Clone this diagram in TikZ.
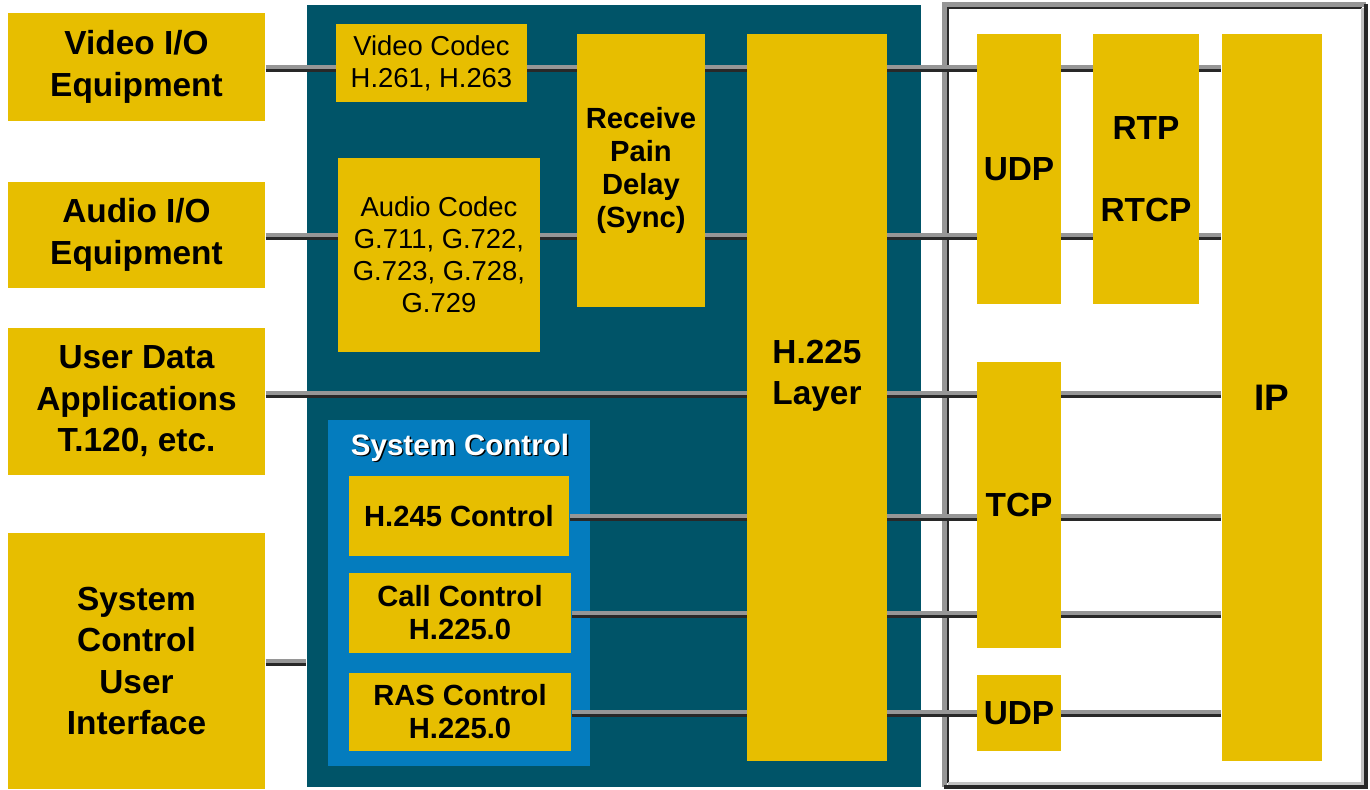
\documentclass[tikz,border=0pt]{standalone}
\usepackage{fontspec}
\setmainfont{Liberation Sans}
\usepackage{xcolor}
\usepackage{tikz}
\usetikzlibrary{positioning}

\definecolor{gold}{RGB}{231,190,0}
\definecolor{panelteal}{RGB}{0,84,104}
\definecolor{ctrlblue}{RGB}{4,124,190}
\definecolor{lkgray}{RGB}{150,150,150}
\definecolor{lkdark}{RGB}{40,40,40}
\definecolor{frlight}{RGB}{195,195,195}
\newcommand{\shadowed}[1]{\makebox[0pt][l]{\hspace{0.4pt}\raisebox{-0.4pt}{\color{black}#1}}#1}
\pgfdeclarelayer{back}
\pgfdeclarelayer{mid}
\pgfsetlayers{back,mid,main}

\begin{document}
\begin{tikzpicture}[
  x=0.1mm, y=-0.1mm,
  box/.style={fill=gold, inner sep=0pt, align=center},
  iobox/.style={box, minimum width=25.7mm, font=\bfseries\fontsize{9.5}{11.8}\selectfont},
  codec/.style={box, font=\fontsize{7.8}{9.1}\selectfont},
  ctrl/.style={box, font=\bfseries\fontsize{8.3}{9.4}\selectfont},
  proto/.style={box, font=\bfseries\fontsize{9.5}{11.7}\selectfont},
  link/.style={draw=lkgray, line width=1pt,
               postaction={draw=lkdark, line width=0.85pt, transform canvas={yshift=-0.9pt}}}
]
  \useasboundingbox (0,0) rectangle (1370,789);
  \begin{pgfonlayer}{back}
    \node[fill=panelteal, minimum width=61.4mm, minimum height=78.2mm] (panel) at (614,396) {};
    \node[fill=white, minimum width=42.4mm, minimum height=78.5mm] (netbox) at (1155,395.5) {};
    \draw[draw=lkgray, line width=1.2pt] ([shift={(0.6pt,0.6pt)}]netbox.south west) |- ([shift={(-0.6pt,-0.6pt)}]netbox.north east);
    \draw[draw=lkdark, line width=0.7pt] ([shift={(1.55pt,1.55pt)}]netbox.south west) |- ([shift={(-1.55pt,-1.55pt)}]netbox.north east);
    \draw[draw=lkdark, line width=1.2pt] ([shift={(0.6pt,0.6pt)}]netbox.south west) -| ([shift={(-0.6pt,-0.6pt)}]netbox.north east);
    \draw[draw=frlight, line width=0.7pt] ([shift={(1.55pt,1.55pt)}]netbox.south west) -| ([shift={(-1.55pt,-1.55pt)}]netbox.north east);
    \node[fill=ctrlblue, minimum width=26.2mm, minimum height=34.6mm] (sysctl) at (459,593) {};
  \end{pgfonlayer}

  \node[iobox, minimum height=10.8mm] (vidio) at (136.5,67) {Video I/O\\Equipment};
  \node[iobox, minimum height=10.6mm] (audio) at (136.5,235) {Audio I/O\\Equipment};
  \node[iobox, minimum height=14.7mm] (userdata) at (136.5,401.5) {User Data\\Applications\\T.120, etc.};
  \node[iobox, minimum height=25.6mm] (sysui) at (136.5,661) {System\\Control\\User\\Interface};

  \node[codec, minimum width=19.1mm, minimum height=7.8mm] (vcodec) at (431.5,63) {Video Codec\\H.261, H.263};
  \node[codec, minimum width=20.2mm, minimum height=19.4mm] (acodec) at (439,255) {Audio Codec\\G.711, G.722,\\G.723, G.728,\\G.729};
  \node[ctrl, minimum width=12.8mm, minimum height=27.3mm] (rpd) at (641,170.5) {Receive\\Pain\\Delay\\(Sync)};
  \node[proto, minimum width=14mm, minimum height=72.7mm] (h225) at (817,397.5) {};
  \node[font=\bfseries\fontsize{9.5}{11.7}\selectfont, align=center, inner sep=0pt] (h225txt) at (817,376) {H.225\\Layer};

  \node[anchor=base, text=white, inner sep=0pt, font=\bfseries\fontsize{8.4}{10}\selectfont] (sctitle) at (460,455) {\shadowed{System Control}};
  \node[ctrl, minimum width=22mm, minimum height=8mm] (h245) at (459,516) {H.245 Control};
  \node[ctrl, minimum width=22.2mm, minimum height=8mm] (callctl) at (460,613) {Call Control\\H.225.0};
  \node[ctrl, minimum width=22.2mm, minimum height=7.8mm] (rasctl) at (460,712) {RAS Control\\H.225.0};

  \node[proto, minimum width=8.4mm, minimum height=27mm] (udptop) at (1019,169) {UDP};
  \node[proto, minimum width=10.6mm, minimum height=27mm] (rtp) at (1146,169) {RTP\\[11.6pt]RTCP};
  \node[proto, minimum width=8.4mm, minimum height=28.6mm] (tcp) at (1019,505) {TCP};
  \node[proto, minimum width=8.4mm, minimum height=7.6mm] (udpbot) at (1019,713) {UDP};
  \node[box, minimum width=10mm, minimum height=72.7mm, font=\bfseries\fontsize{10.5}{12}\selectfont] (ip) at (1272,397.5) {IP};

  \begin{pgfonlayer}{mid}
    \coordinate (datarow) at ([yshift=2.4pt]userdata.east);
    \draw[link] (vidio.east) -- (vidio.east -| ip.west);
    \draw[link] (audio.east) -- (audio.east -| ip.west);
    \draw[link] (datarow) -- (datarow -| ip.west);
    \draw[link] (h245.east) -- (h245.east -| ip.west);
    \draw[link] (callctl.east) -- (callctl.east -| ip.west);
    \draw[link] (rasctl.east) -- (rasctl.east -| ip.west);
    \draw[link] (sysui.east) -- (sysui.east -| panel.west);
  \end{pgfonlayer}
\end{tikzpicture}
\end{document}
